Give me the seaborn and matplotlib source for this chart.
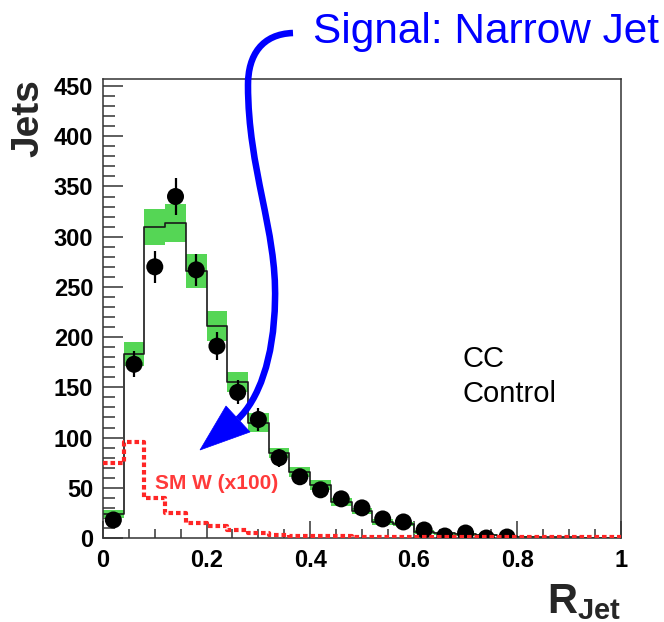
import numpy as np
import matplotlib
matplotlib.use("Agg")
import matplotlib.pyplot as plt
from matplotlib.path import Path
from matplotlib.patches import PathPatch, Polygon
from matplotlib.ticker import MultipleLocator, FuncFormatter
import seaborn as sns

# R_jet binning (25 bins of width 0.04)
bin_edges = np.round(np.linspace(0.0, 1.0, 26), 2)
bin_centers = np.round((bin_edges[:-1] + bin_edges[1:]) / 2, 2)

# expected jets (total prediction) and its uncertainty per bin
mc_jets = [24, 183, 310, 314, 266, 211, 155, 115, 85, 66, 53, 36, 27, 16, 14,
           6, 5, 4, 3, 2, 1.5, 1, 1, 0.5, 0.5]
mc_unc = [4, 12, 18, 19, 17, 15, 10, 9, 5, 5, 5, 4, 3, 3, 2,
          2, 1.5, 1.5, 1, 1, 0.5, 0.5, 0.5, 0.5, 0.5]

# SM W expectation, scaled by 100
smw_x100 = [75, 96, 40, 25, 15, 12, 8, 5, 3, 2.5, 2, 2, 1.5, 1.5, 1.5,
            1, 1, 1, 1, 1, 1, 1, 1, 1, 1]

# observed jets (first 20 bins)
data_r = bin_centers[:20]
data_jets = [18, 173, 270, 340, 267, 191, 145, 118, 80, 61, 48, 39, 30, 19, 16,
             8, 2, 5, 0, 1]
data_err = [4, 13, 16, 18, 16, 14, 12, 11, 9, 8, 7, 6, 5.5, 4.5, 4,
            3, 1.5, 2, 0, 1]

sns.set_style("ticks")
plt.rcParams["font.family"] = ["Liberation Sans", "DejaVu Sans"]
plt.rcParams["font.weight"] = "bold"
plt.rcParams["mathtext.fontset"] = "custom"
plt.rcParams["mathtext.rm"] = "Liberation Sans:bold"
plt.rcParams["mathtext.bf"] = "Liberation Sans:bold"

W, H = 664, 622
fig = plt.figure(figsize=(W / 100, H / 100), dpi=100)
fig.patch.set_facecolor("white")
ax = fig.add_axes([0.1551, 0.1350, 0.7801, 0.7380])
ax.set_facecolor("white")

mc = np.array(mc_jets, dtype=float)
unc = np.array(mc_unc, dtype=float)
edges = bin_edges.tolist()

# uncertainty band of the prediction
ax.bar(bin_edges[:-1], 2 * unc, bottom=mc - unc, width=0.04, align="edge",
       color="#55d655", linewidth=0, zorder=1)

# prediction histogram
sns.histplot(x=bin_centers, weights=mc_jets, bins=edges, element="step",
             fill=False, color="#1a1a1a", linewidth=1.2, ax=ax, zorder=2)

# data with statistical errors
ax.errorbar(data_r, data_jets, yerr=data_err, fmt="none", ecolor="black",
            elinewidth=1.6, capsize=0, zorder=3)
sns.scatterplot(x=data_r, y=data_jets, color="black", s=150, edgecolor="none",
                ax=ax, zorder=4)

# SM W (x100)
sns.histplot(x=bin_centers, weights=smw_x100, bins=edges, element="step",
             fill=False, color="#ff2626", linewidth=3.0,
             linestyle=(0, (1.1, 0.7)), ax=ax, zorder=5)

ax.set_xlim(0, 1)
ax.set_ylim(0, 457)

ax.xaxis.set_major_locator(MultipleLocator(0.2))
ax.xaxis.set_minor_locator(MultipleLocator(0.05))
ax.yaxis.set_major_locator(MultipleLocator(50))
ax.yaxis.set_minor_locator(MultipleLocator(10))
ax.xaxis.set_major_formatter(FuncFormatter(lambda v, p: f"{v:g}"))

ax.tick_params(which="both", direction="in", top=False, right=False,
               color="#333333", width=1.1, labelsize=17, labelcolor="black")
ax.tick_params(axis="y", which="major", length=14.4, pad=7)
ax.tick_params(axis="y", which="minor", length=8.3)
ax.tick_params(axis="x", which="major", length=12.2, pad=8)
ax.tick_params(axis="x", which="minor", length=6.5)

for s in ax.spines.values():
    s.set_color("#333333")
    s.set_linewidth(1.1)
    s.set_visible(True)

ax.set_ylabel("Jets", fontsize=28, fontweight="bold", loc="top")
ax.yaxis.set_label_coords(-0.11, 1.0)
ax.set_xlabel(r"$\mathbf{R}_{\mathbf{Jet}}$", fontsize=30, loc="right")
ax.xaxis.set_label_coords(1.0, -0.097)

ax.text(0.695, 170, "CC", fontsize=21, fontweight="normal", color="black",
        ha="left", va="baseline")
ax.text(0.695, 135, "Control", fontsize=21, fontweight="normal", color="black",
        ha="left", va="baseline")
ax.text(0.10, 49, "SM W (x100)", fontsize=15, fontweight="bold",
        color="#ff3a3a", ha="left", va="baseline", zorder=6)

# headline with a curved pointer down to the narrow-jet region
fig.text(313 / W, 1 - 43 / H, "Signal: Narrow Jet", fontsize=30.5,
         fontweight="normal", color="#0000ff", ha="left", va="baseline")


def to_fig(x, y):
    return (x / W, 1 - y / H)


pts = [(293, 33), (262, 34), (248, 55), (248, 85),
       (248, 170), (277, 230), (275, 300),
       (274, 360), (258, 400), (238, 419)]
codes = [Path.MOVETO] + [Path.CURVE4] * 9
curve = Path([to_fig(*p) for p in pts], codes)
fig.add_artist(PathPatch(curve, transform=fig.transFigure, fill=False,
                         edgecolor="#0000ff", linewidth=4.7, capstyle="butt"))
head = [to_fig(200, 450), to_fig(226, 406), to_fig(250, 432)]
fig.add_artist(Polygon(head, closed=True, transform=fig.transFigure,
                       facecolor="#0000ff", edgecolor="#0000ff", linewidth=0.5))

fig.savefig("out.png", dpi=100, facecolor="white")
